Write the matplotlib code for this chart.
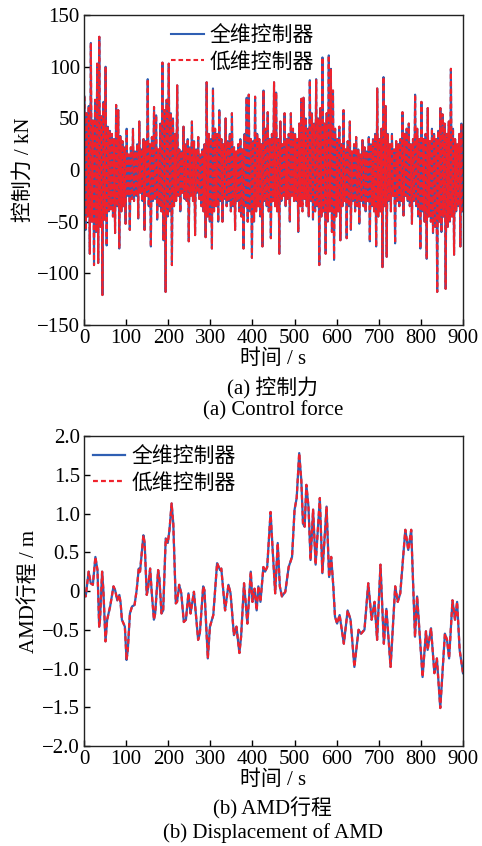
import numpy as np
import matplotlib
matplotlib.use("Agg")
import matplotlib.pyplot as plt

plt.rcParams['font.family'] = ['Liberation Serif', 'Noto Sans CJK SC']
plt.rcParams['axes.unicode_minus'] = True

# control force (kN): per-cycle maxima and minima, one cycle every 5 s
force_peak = [
    71, 55, 62, 123, 48, 68, 103, 129, 52, 66,
    100, 42, 38, 35, 30, 63, 58, 33, 28, 22,
    40, 15, 22, 40, 18, 25, 47, 20, 30, 28,
    88, 25, 32, 61, 53, 20, 45, 104, 58, 68,
    103, 55, 50, 35, 82, 20, 18, 42, 25, 30,
    22, 47, 28, 20, 32, 15, 20, 25, 85, 35,
    30, 79, 40, 35, 58, 30, 25, 50, 28, 35,
    55, 22, 18, 25, 30, 20, 35, 70, 73, 30,
    28, 71, 35, 30, 25, 77, 40, 56, 30, 35,
    85, 75, 30, 47, 25, 55, 30, 35, 55, 40,
    35, 30, 45, 69, 70, 50, 40, 87, 55, 45,
    88, 50, 60, 109, 45, 55, 111, 98, 77, 40,
    30, 42, 25, 58, 20, 28, 47, 18, 25, 32,
    20, 15, 29, 22, 18, 32, 25, 30, 35, 79,
    30, 40, 90, 62, 35, 25, 35, 20, 28, 25,
    30, 56, 35, 40, 45, 25, 30, 73, 40, 30,
    66, 30, 35, 60, 28, 40, 35, 30, 38, 60,
    54, 45, 35, 47, 98, 40, 30, 25, 35, 45,
]
force_trough = [
    -58, -45, -81, -50, -92, -60, -90, -55, -121, -48,
    -73, -40, -38, -45, -61, -35, -76, -40, -35, -52,
    -25, -58, -28, -30, -25, -47, -22, -30, -58, -25,
    -35, -74, -30, -28, -48, -35, -40, -68, -118, -45,
    -40, -92, -35, -30, -25, -40, -22, -28, -30, -69,
    -25, -30, -63, -22, -28, -35, -40, -65, -45, -50,
    -76, -40, -35, -50, -30, -50, -28, -35, -30, -40,
    -35, -58, -30, -40, -45, -76, -35, -50, -40, -85,
    -50, -40, -35, -45, -74, -30, -35, -40, -66, -30,
    -35, -40, -81, -30, -25, -35, -28, -50, -25, -30,
    -30, -60, -35, -40, -28, -35, -45, -30, -48, -40,
    -35, -92, -45, -40, -81, -50, -40, -60, -87, -45,
    -40, -68, -35, -30, -66, -35, -58, -30, -40, -35,
    -52, -30, -35, -40, -30, -69, -35, -40, -74, -45,
    -40, -94, -35, -84, -30, -40, -25, -71, -30, -35,
    -30, -44, -25, -30, -35, -52, -30, -35, -45, -76,
    -40, -50, -86, -45, -50, -61, -55, -118, -50, -60,
    -45, -115, -55, -50, -45, -82, -40, -35, -74, -40,
]

# AMD stroke (m)
stroke_t = [0, 4, 11, 16, 21, 27, 32, 36, 38, 43, 46, 51, 55, 62, 70, 74, 79, 84, 87, 90,
            97, 101, 104, 109, 114, 120, 125, 130, 133, 141, 144, 149, 152, 157, 161, 166, 169,
            176, 179, 184, 188, 194, 199, 203, 208, 212, 218, 221, 226, 231, 237, 242, 248, 253,
            261, 271, 275, 283, 286, 294, 299, 307, 316, 323, 326, 335, 343, 348, 356, 362, 369,
            373, 380, 388, 396, 400, 405, 410, 414, 419, 426, 430, 435, 443, 448, 454, 460, 465,
            470, 478, 486, 494, 500, 505, 511, 516, 520, 524, 528, 533, 538, 544, 550, 560, 566,
            576, 582, 587, 592, 596, 601, 607, 617, 626, 633, 642, 652, 658, 666, 675, 683, 690,
            696, 704, 712, 718, 728, 739, 745, 751, 763, 770, 777, 786, 791, 804, 812, 816, 824,
            832, 838, 846, 857, 862, 867, 875, 881, 886, 892, 900]
stroke_m = [-0.03, -0.07, 0.25, 0.10, 0.08, 0.44, 0.27, -0.46, -0.37, 0.25, 0.01, -0.65, -0.37,
            -0.20, 0.06, 0.01, -0.12, -0.05, -0.16, -0.37, -0.46, -0.89, -0.76, -0.29, -0.20,
            -0.18, 0.01, 0.29, 0.25, 0.72, 0.62, -0.05, 0.03, 0.29, -0.03, -0.37, -0.29, 0.27,
            0.16, -0.29, -0.25, 0.68, 0.62, 0.79, 1.13, 0.87, -0.16, -0.14, 0.08, -0.03, -0.40,
            -0.37, -0.03, -0.29, -0.01, -0.63, -0.55, 0.06, 0.01, -0.87, -0.46, -0.31, 0.36,
            0.27, 0.29, -0.25, 0.08, -0.03, -0.57, -0.46, -0.80, -0.59, 0.10, -0.42, 0.25,
            -0.14, 0.03, -0.25, 0.06, -0.14, 0.31, 0.25, 0.31, 1.02, 0.53, -0.03, 0.62, 0.06,
            -0.07, -0.01, 0.31, 0.44, 1.05, 1.20, 1.78, 1.43, 0.87, 0.83, 1.37, 1.09, 0.40,
            1.05, 0.34, 1.20, 0.23, 1.09, 0.18, 0.44, 0.06, -0.33, -0.42, -0.31, -0.68, -0.25,
            -0.37, -0.98, -0.50, -0.55, -0.50, 0.10, -0.37, -0.14, -0.63, 0.34, -0.68, -0.23,
            -0.98, 0.06, -0.14, -0.03, 0.79, 0.53, 0.79, -0.59, -0.07, -1.11, -0.52, -0.76,
            -0.48, -1.06, -0.87, -1.51, -0.55, -0.63, -0.87, -0.12, -0.37, -0.14, -0.76, -1.06]

labels = ['全维控制器', '低维控制器']
blue = '#2f5fb3'
red = '#f0222c'

# interleave maxima and minima into one time series
n = len(force_peak)
force_t = np.empty(2 * n)
force_t[0::2] = np.arange(n) * 5 + 1.25
force_t[1::2] = np.arange(n) * 5 + 3.75
force = np.empty(2 * n)
force[0::2] = force_peak
force[1::2] = force_trough

fig = plt.figure(figsize=(4.82, 8.46), dpi=100)
ax1 = fig.add_axes([0.1743, 0.6158, 0.7863, 0.3664])
ax2 = fig.add_axes([0.1743, 0.1182, 0.7863, 0.3664])

fs = 15


def style(ax, ylim, yticks, ylabel, yfmt):
    ax.set_xlim(0, 900)
    ax.set_ylim(*ylim)
    ax.set_xticks(range(0, 901, 100))
    ax.set_yticks(yticks)
    ax.set_yticklabels([yfmt(v) for v in yticks])
    ax.tick_params(direction='in', length=4, width=1, labelsize=fs, pad=3,
                   top=False, right=False)
    for sp in ax.spines.values():
        sp.set_linewidth(1.0)
        sp.set_color('#222222')
    ax.set_xlabel('时间 / s', fontsize=fs, labelpad=1)
    ax.set_ylabel(ylabel, fontsize=fs, labelpad=2)


leg_kw = dict(frameon=False, fontsize=fs, handlelength=1.55, handletextpad=0.3,
              labelspacing=0.3, borderaxespad=0.15)

ax1.plot(force_t, force, color=blue, lw=1.5, label=labels[0])
ax1.plot(force_t, force, color=red, lw=1.5, ls=(0, (2.2, 1.4)), label=labels[1])
style(ax1, (-150, 150), list(range(-150, 151, 50)), '控制力 / kN',
      lambda v: f'{v:d}'.replace('-', '\u2212'))
ax1.legend(loc='upper left', bbox_to_anchor=(0.2, 1.0), **leg_kw)

ax2.plot(stroke_t, stroke_m, color=blue, lw=1.6, label=labels[0])
ax2.plot(stroke_t, stroke_m, color=red, lw=1.6, ls=(0, (2.2, 1.4)), label=labels[1])
style(ax2, (-2.0, 2.0), list(np.arange(-2.0, 2.01, 0.5)), 'AMD行程 / m',
      lambda v: f'{v:.1f}'.replace('-', '\u2212') if abs(v) > 1e-9 else '0')
ax2.legend(loc='upper left', bbox_to_anchor=(-0.007, 1.0), **leg_kw)

fig.text(0.566, 1 - 388 / 846, '(a) 控制力', ha='center', va='center', fontsize=fs)
fig.text(0.566, 1 - 411 / 846, '(a) Control force', ha='center', va='center', fontsize=fs)
fig.text(0.566, 1 - 808 / 846, '(b) AMD行程', ha='center', va='center', fontsize=fs)
fig.text(0.566, 1 - 833 / 846, '(b) Displacement of AMD', ha='center', va='center', fontsize=fs)

fig.savefig('out.png', dpi=100)
